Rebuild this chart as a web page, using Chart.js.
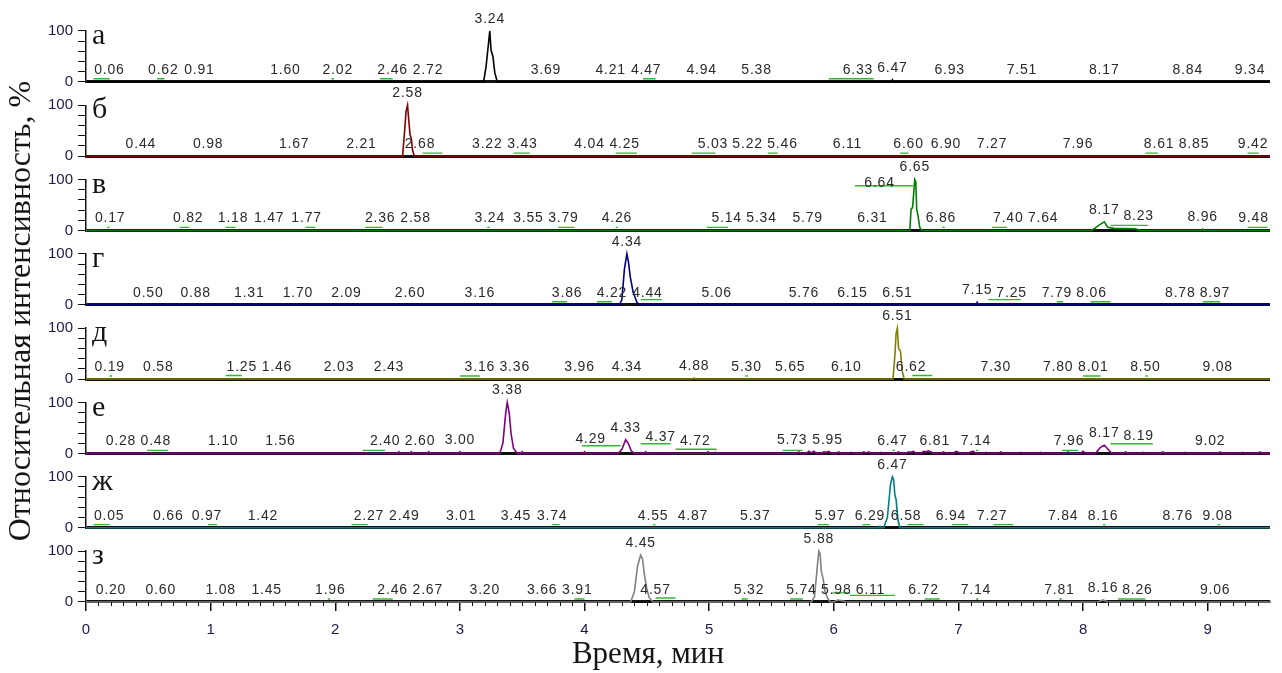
<!DOCTYPE html>
<html lang="ru">
<head>
<meta charset="utf-8" />
<title>Хроматограммы</title>
<script src="https://cdn.jsdelivr.net/npm/chart.js"></script>
<style>
  html, body { margin: 0; padding: 0; background: #fff; }
</style>
</head>
<body>
<canvas id="chrom" width="1282" height="673"></canvas>
<script>
// panel letters, top to bottom
const panelNames = ["а", "б", "в", "г", "д", "е", "ж", "з"];

// traces: [time, relative intensity %]
const traceA = [[0,0],[3.19,0],[3.21,30],[3.225,65],[3.24,100],[3.25,62],[3.265,50],[3.28,18],[3.30,0],
  [6.46,0],[6.47,4],[6.48,0],[9.5,0]];
const traceB = [[0,0],[2.54,0],[2.555,45],[2.568,88],[2.58,100],[2.59,70],[2.60,42],[2.61,35],[2.62,12],[2.635,0],[9.5,0]];
const traceC = [[0,0],[6.61,0],[6.62,42],[6.632,45],[6.65,100],[6.658,96],[6.665,42],[6.675,30],[6.69,6],[6.705,0],
  [8.07,0],[8.12,9],[8.17,17],[8.20,6],[8.25,4],[8.42,3],[8.46,0],[8.95,0],[8.96,3],[8.97,0],[9.5,0]];
const traceD = [[0,0],[4.28,0],[4.30,10],[4.32,70],[4.34,100],[4.352,85],[4.367,55],[4.39,25],[4.42,5],[4.44,0],
  [7.14,0],[7.15,5],[7.16,0],[9.5,0]];
const traceE = [[0,0],[4.87,0],[4.88,2],[4.89,0],[6.475,0],[6.49,45],[6.50,90],[6.51,100],[6.52,60],[6.535,55],[6.55,15],[6.565,0],[9.5,0]];
const traceF = [[0,0],[2.50,0],[2.51,3],[2.52,0],[2.60,0],[2.61,3],[2.62,0],[2.74,0],[2.75,3],[2.76,0],[2.99,0],[3.00,3],[3.01,0],
  [3.32,0],[3.345,20],[3.368,80],[3.38,100],[3.388,90],[3.397,76],[3.41,40],[3.43,10],[3.46,0],
  [3.49,0],[3.50,3],[3.51,0],[3.99,0],[4.00,3],[4.01,0],
  [4.27,0],[4.30,8],[4.33,27],[4.35,20],[4.375,5],[4.40,0],
  [4.48,0],[4.49,3],[4.50,0],[4.98,0],[4.99,3],[5.00,0],[5.04,0],[5.05,2],[5.06,0],
  [5.70,0],[5.72,3],[5.74,0],[5.78,0],[5.80,4],[5.82,1],[5.84,4],[5.86,0],[5.90,0],[5.92,3],[5.94,2],[5.96,4],[5.98,0],
  [6.02,0],[6.04,3],[6.06,0],[6.12,0],[6.14,2],[6.16,0],[6.22,0],[6.24,3],[6.26,1],[6.28,3],[6.30,0],[6.36,0],[6.38,2],[6.40,0],
  [6.50,0],[6.52,3],[6.54,0],[6.58,0],[6.60,3],[6.62,2],[6.64,4],[6.66,0],[6.70,0],[6.72,4],[6.74,3],[6.76,5],[6.78,3],[6.80,0],
  [6.86,0],[6.88,3],[6.90,0],[6.96,0],[6.98,4],[7.00,2],[7.02,0],[7.08,0],[7.10,3],[7.12,4],[7.14,0],[7.20,0],[7.22,2],[7.24,0],
  [7.32,0],[7.34,3],[7.36,0],[7.48,0],[7.50,2],[7.52,0],[7.64,0],[7.66,2],[7.68,0],[7.86,0],[7.88,3],[7.90,0],[7.98,0],[8.00,4],[8.02,0],
  [8.10,0],[8.14,12],[8.17,16],[8.20,8],[8.23,0],[8.32,0],[8.34,3],[8.36,0],[8.46,0],[8.48,2],[8.50,0],[8.62,0],[8.64,3],[8.66,0],
  [8.80,0],[8.82,2],[8.84,0],[9.08,0],[9.10,3],[9.12,0],[9.26,0],[9.28,2],[9.30,0],[9.40,0],[9.42,3],[9.44,0],[9.5,0]];
const traceG = [[0,0],[6.36,0],[6.37,3],[6.38,0],[6.40,0],[6.43,20],[6.455,85],[6.47,100],[6.48,95],[6.49,65],[6.50,55],[6.515,15],[6.53,0],[9.5,0]];
const traceH = [[0,0],[4.37,0],[4.40,20],[4.425,70],[4.45,92],[4.465,85],[4.48,55],[4.50,25],[4.52,8],[4.55,0],
  [5.82,0],[5.845,10],[5.868,70],[5.88,100],[5.89,95],[5.90,60],[5.915,45],[5.93,20],[5.95,8],[5.97,0],
  [6.00,0],[6.03,4],[6.06,3],[6.10,0],[8.12,0],[8.16,4],[8.20,0],[9.5,0]];

// labelled retention times, min
const rtA = [0.06,0.62,0.91,1.60,2.02,2.46,2.72,3.24,3.69,4.21,4.47,4.94,5.38,6.33,6.47,6.93,7.51,8.17,8.84,9.34];
const rtB = [0.44,0.98,1.67,2.21,2.58,2.68,3.22,3.43,4.04,4.25,5.03,5.22,5.46,6.11,6.60,6.90,7.27,7.96,8.61,8.85,9.42];
const rtC = [0.17,0.82,1.18,1.47,1.77,2.36,2.58,3.24,3.55,3.79,4.26,5.14,5.34,5.79,6.31,6.64,6.65,6.86,7.40,7.64,8.17,8.23,8.96,9.48];
const rtD = [0.50,0.88,1.31,1.70,2.09,2.60,3.16,3.86,4.22,4.34,4.44,5.06,5.76,6.15,6.51,7.15,7.25,7.79,8.06,8.78,8.97];
const rtE = [0.19,0.58,1.25,1.46,2.03,2.43,3.16,3.36,3.96,4.34,4.88,5.30,5.65,6.10,6.51,6.62,7.30,7.80,8.01,8.50,9.08];
const rtF = [0.28,0.48,1.10,1.56,2.40,2.60,3.00,3.38,4.29,4.33,4.37,4.72,5.73,5.95,6.47,6.81,7.14,7.96,8.17,8.19,9.02];
const rtG = [0.05,0.66,0.97,1.42,2.27,2.49,3.01,3.45,3.74,4.55,4.87,5.37,5.97,6.29,6.47,6.58,6.94,7.27,7.84,8.16,8.76,9.08];
const rtH = [0.20,0.60,1.08,1.45,1.96,2.46,2.67,3.20,3.66,3.91,4.45,4.57,5.32,5.74,5.88,5.98,6.11,6.72,7.14,7.81,8.16,8.26,9.06];

// integration baselines: [from, to, level %]
const baseA = [[0.06,0.19,6],[0.57,0.63,6],[1.97,1.99,6],[2.36,2.46,6],[4.47,4.57,6],[5.96,6.32,6]];
const baseB = [[2.70,2.86,6],[3.43,3.56,6],[4.25,4.42,6],[4.86,5.05,6],[5.47,5.55,6],[6.53,6.60,6],[8.50,8.60,6],[9.32,9.41,6]];
const baseC = [[0.17,0.19,6],[0.75,0.83,6],[1.12,1.20,6],[1.76,1.84,6],[2.24,2.38,6],[3.22,3.24,6],[3.79,3.92,6],[4.25,4.27,6],
  [4.98,5.15,6],[6.17,6.64,88],[6.87,6.89,6],[7.27,7.39,6],[8.22,8.52,10],[9.32,9.48,6]];
const baseD = [[3.74,3.86,6],[4.10,4.22,6],[4.45,4.62,10],[7.24,7.50,10],[7.79,7.84,6],[8.06,8.22,6],[8.96,9.10,6]];
const baseE = [[0.19,0.21,6],[1.12,1.25,7],[3.00,3.16,6],[5.29,5.31,6],[6.63,6.79,7],[8.00,8.14,6],[8.50,8.52,6]];
const baseF = [[0.49,0.66,6],[2.22,2.40,6],[3.98,4.29,15],[4.45,4.69,19],[4.73,5.06,8],[5.59,5.75,6],[6.47,6.49,6],
  [7.14,7.16,6],[7.83,7.96,6],[8.22,8.56,19]];
const baseG = [[0.06,0.19,6],[0.98,1.05,6],[2.13,2.26,6],[3.74,3.80,6],[4.55,4.57,6],[5.87,5.96,6],[6.23,6.29,6],
  [6.59,6.72,6],[6.95,7.08,6],[7.28,7.44,6],[8.16,8.18,6],[9.08,9.10,6]];
const baseH = [[1.94,1.96,6],[2.30,2.46,6],[3.92,4.00,6],[4.57,4.73,8],[5.26,5.31,6],[5.65,5.75,6],[5.99,6.13,18],
  [6.13,6.49,13],[6.73,6.85,6],[7.14,7.16,6],[7.81,7.83,6],[8.28,8.50,6]];

const timeTicks = [0, 1, 2, 3, 4, 5, 6, 7, 8, 9];
const intensityTicks = [0, 100];

const traces = [traceA, traceB, traceC, traceD, traceE, traceF, traceG, traceH];
const retention = [rtA, rtB, rtC, rtD, rtE, rtF, rtG, rtH];
const baselines = [baseA, baseB, baseC, baseD, baseE, baseF, baseG, baseH];
const lineColors = ["#000000", "#800000", "#008000", "#000080", "#808000", "#800080", "#008080", "#808080"];
const baseColor = "#33b533";

const tickColor = "#1b1b48";
const sans = "Liberation Sans";
const serif = "Liberation Serif";

// trace value at time t (linear between points)
function heightAt(trace, t) {
  for (let i = 1; i < trace.length; i++) {
    const [x0, y0] = trace[i - 1], [x1, y1] = trace[i];
    if (t >= x0 && t <= x1) return x1 === x0 ? Math.max(y0, y1) : y0 + (y1 - y0) * (t - x0) / (x1 - x0);
  }
  return 0;
}

const scales = {
  x: {
    type: "linear", position: "bottom", min: 0, max: 9.5,
    afterBuildTicks: s => { s.ticks = timeTicks.map(v => ({ value: v })); },
    ticks: { color: tickColor, font: { family: sans, size: 15 }, padding: 10, maxRotation: 0, autoSkip: false },
    grid: { drawOnChartArea: false, color: "#111", tickLength: 9, lineWidth: 1.5 },
    border: { color: "#111", width: 2 },
    afterFit: s => { s.height = 71; }
  }
};

panelNames.forEach((nm, k) => {
  // empty band above each panel
  scales["gap" + k] = { type: "linear", display: false, position: "left", stack: "panels",
    stackWeight: k === 0 ? 17 : 23.5, weight: 40 - 2 * k };
  scales["y" + k] = {
    type: "linear", position: "left", stack: "panels", stackWeight: 51, weight: 39 - 2 * k,
    min: 0, max: 100,
    ticks: {
      stepSize: 20, autoSkip: false, padding: 5, color: tickColor, font: { family: sans, size: 15 },
      callback: v => intensityTicks.includes(v) ? String(v) : ""
    },
    grid: {
      drawOnChartArea: true,
      color: c => (c.tick && c.tick.value === 0) ? "#111" : "rgba(0,0,0,0)",
      lineWidth: c => (c.tick && c.tick.value === 0) ? 3 : 1,
      tickColor: "#111", tickLength: 8, tickWidth: 1
    },
    border: { color: "#111", width: 1.5 },
    afterFit: s => { s.width = 50; }
  };
});

const decorations = {
  id: "decorations",
  afterDatasetsDraw(chart) {
    const { ctx, chartArea: area, scales: sc } = chart;
    const xs = sc.x;
    ctx.save();

    // minor ticks every 0.1 min
    ctx.strokeStyle = "#111";
    ctx.lineWidth = 1;
    for (let i = 1; i < 95; i++) {
      if (i % 10 === 0) continue;
      const px = Math.round(xs.getPixelForValue(i / 10)) + 0.5;
      ctx.beginPath();
      ctx.moveTo(px, area.bottom);
      ctx.lineTo(px, area.bottom + 4);
      ctx.stroke();
    }

    // retention time labels, nudged sideways when they collide
    ctx.font = "14px '" + sans + "'";
    ctx.letterSpacing = "0.8px";
    ctx.fillStyle = "#2a2a2a";
    ctx.textAlign = "center";
    ctx.textBaseline = "middle";
    const items = [];
    retention.forEach((list, k) => {
      const ys = sc["y" + k];
      list.forEach(t => {
        const h = heightAt(traces[k], t);
        items.push({ text: t.toFixed(2), x: xs.getPixelForValue(t), y: ys.getPixelForValue(h) - 12, h });
      });
    });
    items.sort((a, b) => (b.h - a.h) || (a.x - b.x));
    const placed = [];
    for (const it of items) {
      const w = ctx.measureText(it.text).width;
      let box = null;
      for (let s = 0; s <= 90 && !box; s++) {
        for (const dx of (s ? [-s, s] : [0])) {
          const cx = it.x + dx;
          const b = { l: cx - w / 2 - 2, r: cx + w / 2 + 2, t: it.y - 9, b: it.y + 9 };
          if (b.l < area.left + 6 || b.r > area.right + 1) continue;
          if (placed.some(o => o.l < b.r && b.l < o.r && o.t < b.b && b.t < o.b)) continue;
          box = b;
          break;
        }
      }
      if (!box) box = { l: it.x - w / 2, r: it.x + w / 2, t: it.y - 9, b: it.y + 9 };
      placed.push(box);
      ctx.fillText(it.text, (box.l + box.r) / 2, it.y);
    }
    ctx.restore();
  },
  afterDraw(chart) {
    const { ctx, scales: sc } = chart;
    ctx.save();
    ctx.fillStyle = "#151515";
    ctx.font = "30px '" + serif + "'";
    ctx.textAlign = "left";
    ctx.textBaseline = "alphabetic";
    panelNames.forEach((nm, k) => {
      const ys = sc["y" + k];
      ctx.fillText(nm, ys.right + 6, ys.top + 13);
    });
    ctx.font = "31px '" + serif + "'";
    ctx.textAlign = "center";
    ctx.textBaseline = "middle";
    ctx.fillText("Время, мин", 648, 655);
    ctx.font = "32px '" + serif + "'";
    ctx.translate(22, 311);
    ctx.rotate(-Math.PI / 2);
    ctx.fillText("Относительная интенсивность, %", 0, 0);
    ctx.restore();
  }
};

// green integration marks first so they sit on top of the traces
const baseSets = baselines.map((list, k) => {
  const pts = [];
  list.forEach(([a, b, h]) => { pts.push({ x: a, y: h }, { x: b, y: h }, { x: b, y: null }); });
  return { data: pts, xAxisID: "x", yAxisID: "y" + k, borderColor: baseColor, borderWidth: 1.4,
    pointRadius: 0, spanGaps: false, clip: false };
});
const traceSets = traces.map((tr, k) => ({
  data: tr.map(p => ({ x: p[0], y: p[1] })),
  xAxisID: "x",
  yAxisID: "y" + k,
  borderColor: lineColors[k],
  borderWidth: 1.6,
  pointRadius: 0,
  tension: 0,
  clip: false
}));

new Chart(document.getElementById("chrom"), {
  type: "line",
  data: { datasets: baseSets.concat(traceSets) },
  options: {
    responsive: false,
    devicePixelRatio: 1,
    animation: false,
    layout: { padding: { left: 36, right: 12, top: 9, bottom: 0 } },
    plugins: { legend: { display: false }, tooltip: { enabled: false } },
    scales
  },
  plugins: [decorations]
});
</script>
</body>
</html>
